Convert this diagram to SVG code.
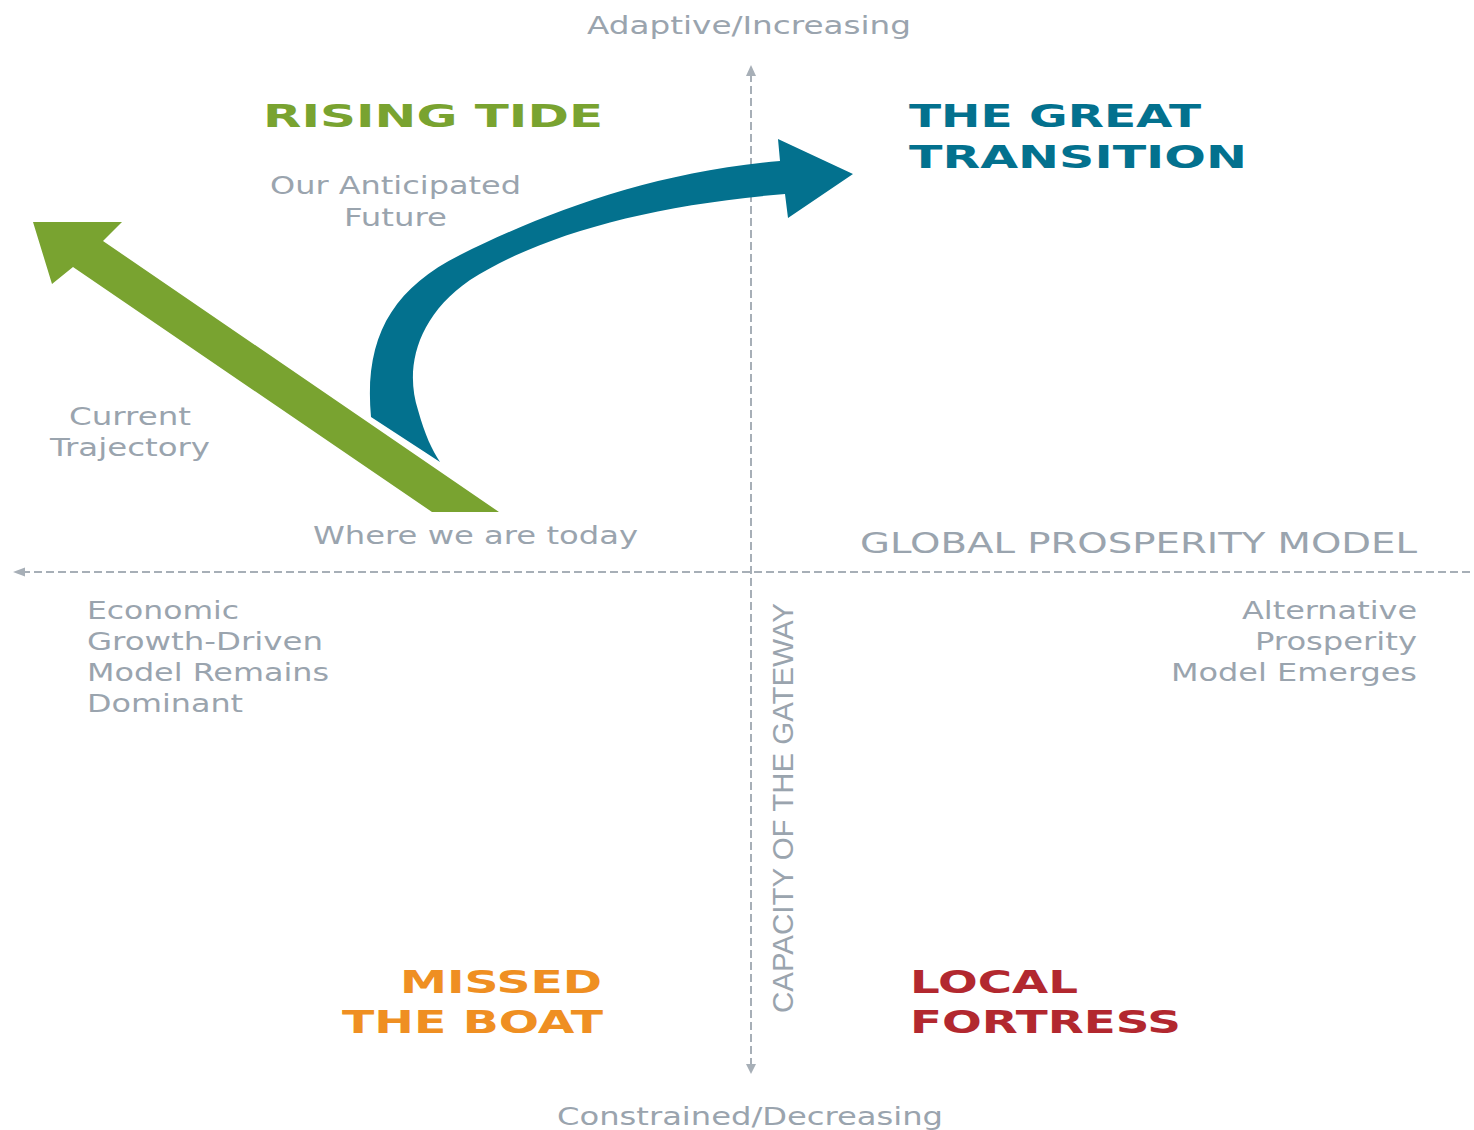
<svg xmlns="http://www.w3.org/2000/svg" width="1474" height="1130" viewBox="0 0 1474 1130">
<style>
.lbl{font-family:"DejaVu Sans","Liberation Sans",sans-serif;font-size:24px;fill:#9aa4ae}
.big{font-family:"DejaVu Sans","Liberation Sans",sans-serif;font-size:32px;font-weight:bold}
.axis{stroke:#a7afb7;stroke-width:2;stroke-dasharray:8 4;fill:none}
.ah{fill:#a7afb7}
</style>
<rect width="1474" height="1130" fill="#ffffff"/>
<g id="connectors">
<line class="axis" x1="751" y1="74" x2="751" y2="1066"/>
<polygon class="ah" points="751,65 746,76 756,76"/>
<polygon class="ah" points="751,1074 746,1064 756,1064"/>
<line class="axis" x1="22" y1="572" x2="1474" y2="572"/>
<polygon class="ah" points="13,572 25,567.5 25,576.5"/>
<path id="current-trajectory" fill="#79a330" d="M33,222 L122,222 L103,241 L499,512 L432,512 L73,267 L52,284 Z"/>
<path id="anticipated-future" fill="#03718e" d="M371,417 C364,340 390,290 460,255 C540,215 650,172 780,161 L778,139 L853,174 L788,218 L785,194 C650,205 540,235 470,280 C415,318 405,370 418,410 C425,435 432,450 440,462 Z"/>
</g>
<g id="axis-labels">
<text class="lbl" x="587" y="34" textLength="324" lengthAdjust="spacingAndGlyphs">Adaptive/Increasing</text>
<text class="lbl" x="557" y="1125" textLength="386" lengthAdjust="spacingAndGlyphs">Constrained/Decreasing</text>
<text class="lbl" x="860" y="553" textLength="557" lengthAdjust="spacingAndGlyphs" style="font-size:29px">GLOBAL PROSPERITY MODEL</text>
<text transform="translate(793,1013) rotate(-90)" x="0" y="0" textLength="410" lengthAdjust="spacingAndGlyphs" style="font-family:'Liberation Sans',sans-serif;font-size:30px;fill:#9aa4ae">CAPACITY OF THE GATEWAY</text>
</g>
<g id="rising-tide">
<text class="big" x="263" y="127" textLength="340" lengthAdjust="spacingAndGlyphs" fill="#79a330">RISING TIDE</text>
</g>
<g id="great-transition">
<text class="big" x="909" y="127" textLength="292" lengthAdjust="spacingAndGlyphs" fill="#03718e">THE GREAT</text>
<text class="big" x="909" y="168" textLength="338" lengthAdjust="spacingAndGlyphs" fill="#03718e">TRANSITION</text>
</g>
<g id="missed-the-boat">
<text class="big" x="400" y="993" textLength="202" lengthAdjust="spacingAndGlyphs" fill="#ef8f22">MISSED</text>
<text class="big" x="342" y="1033" textLength="261" lengthAdjust="spacingAndGlyphs" fill="#ef8f22">THE BOAT</text>
</g>
<g id="local-fortress">
<text class="big" x="910" y="993" textLength="168" lengthAdjust="spacingAndGlyphs" fill="#b2282f">LOCAL</text>
<text class="big" x="910" y="1033" textLength="271" lengthAdjust="spacingAndGlyphs" fill="#b2282f">FORTRESS</text>
</g>
<g id="anticipated-label">
<text class="lbl" x="270" y="194" textLength="251" lengthAdjust="spacingAndGlyphs">Our Anticipated</text>
<text class="lbl" x="344" y="226" textLength="103" lengthAdjust="spacingAndGlyphs">Future</text>
</g>
<g id="current-label">
<text class="lbl" x="69" y="425" textLength="122" lengthAdjust="spacingAndGlyphs">Current</text>
<text class="lbl" x="50" y="456" textLength="160" lengthAdjust="spacingAndGlyphs">Trajectory</text>
</g>
<g id="today-label">
<text class="lbl" x="313" y="544" textLength="325" lengthAdjust="spacingAndGlyphs">Where we are today</text>
</g>
<g id="economic-label">
<text class="lbl" x="87" y="619" textLength="152" lengthAdjust="spacingAndGlyphs">Economic</text>
<text class="lbl" x="87" y="650" textLength="236" lengthAdjust="spacingAndGlyphs">Growth-Driven</text>
<text class="lbl" x="87" y="681" textLength="242" lengthAdjust="spacingAndGlyphs">Model Remains</text>
<text class="lbl" x="87" y="712" textLength="156" lengthAdjust="spacingAndGlyphs">Dominant</text>
</g>
<g id="alternative-label">
<text class="lbl" x="1242" y="619" textLength="175" lengthAdjust="spacingAndGlyphs">Alternative</text>
<text class="lbl" x="1255" y="650" textLength="162" lengthAdjust="spacingAndGlyphs">Prosperity</text>
<text class="lbl" x="1171" y="681" textLength="246" lengthAdjust="spacingAndGlyphs">Model Emerges</text>
</g>
</svg>
